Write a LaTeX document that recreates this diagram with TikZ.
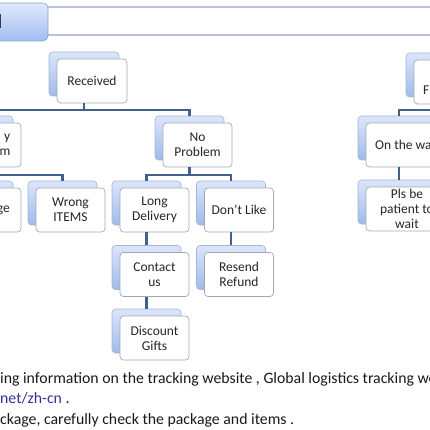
\documentclass[tikz,border=0pt]{standalone}
\usepackage{fontspec}
\setmainfont{Carlito}
\definecolor{connc}{HTML}{43618C}
\definecolor{frontc}{HTML}{A0A8B8}
\definecolor{backc}{HTML}{A3B5D6}
\definecolor{backtop}{HTML}{DCE6FA}
\definecolor{backbot}{HTML}{9FBAEA}
\definecolor{headtop}{HTML}{DFE9FC}
\definecolor{headbot}{HTML}{A2BDF0}
\definecolor{headc}{HTML}{8AA2CC}
\definecolor{bannerc}{HTML}{B9C4D7}
\definecolor{linkc}{HTML}{2F3193}
\newcommand\smbox[5]{%
  \node[backbox, minimum width=#4pt] (#1B) at (#2-8,#3-7) {};
  \node[frontbox, minimum width=#4pt] (#1) at (#2,#3) {#5};}
\begin{document}
\begin{tikzpicture}[x=1pt,y=-1pt,
  conn/.style={draw=connc, line width=2.2pt},
  frontbox/.style={draw=frontc, fill=white, line width=0.7pt, rounded corners=3.5pt,
    minimum height=44pt, inner sep=0.3pt, align=center,
    font=\fontsize{13.5}{15}\selectfont, text=black!85},
  backbox/.style={draw=backc, line width=0.6pt, rounded corners=3.5pt,
    minimum height=44pt, top color=backtop, bottom color=backbot},
  txt/.style={font=\fontsize{13.5}{15}\selectfont, inner sep=0pt, text=black!85},
  foot/.style={font=\fontsize{15.8}{18}\selectfont, inner sep=0pt, anchor=base west, text=black!90}]
\useasboundingbox (0,0) rectangle (430,430);
\clip (0,0) rectangle (430,430);
% banner
\draw[bannerc, line width=1.2pt] (30,7) -- (445,7) (30,35) -- (445,35);
\node[draw=headc, line width=0.6pt, rounded corners=5pt, top color=headtop, bottom color=headbot,
  minimum width=62pt, minimum height=38pt] (head) at (17,22) {};
\node[font=\bfseries\fontsize{20}{20}\selectfont, inner sep=0pt, anchor=east] (headtxt) at (2.2,21) {l};
% boxes
\smbox{rec}{92}{81}{70}{Received}
\smbox{qp}{-13.5}{145}{69}{}
\smbox{np}{197.5}{145}{69}{No\\Problem}
\smbox{ge}{-13.5}{210}{69}{}
\smbox{wr}{70.5}{210}{69}{Wrong\\ITEMS}
\smbox{ld}{154.5}{210}{69}{Long\\Delivery}
\smbox{dl}{239}{210}{69}{Don't Like}
\smbox{cu}{154.5}{274.5}{69}{Contact\\us}
\smbox{rr}{239}{274.5}{69}{Resend\\Refund}
\smbox{dg}{154.5}{338}{69}{Discount\\Gifts}
\smbox{fx}{455}{82}{82}{}
\smbox{ow}{407}{145}{82}{}
\smbox{pb}{407}{209}{82}{Pls be\\patient to\\wait}
% partial texts
\node[txt, anchor=east, align=right] (qptxt) at (10.5,145) {y\\m};
\node[txt, anchor=east] (getxt) at (10,210) {ge};
\node[txt, anchor=west] (fxtxt) at (423,90) {F};
\node[txt, anchor=west] (owtxt) at (375,145) {On the wa};
% connectors
\coordinate (j1) at (84,110);
\coordinate (j2) at (-21.5,175);
\coordinate (j3) at (189.5,175);
\coordinate (j4) at (447,110);
\draw[conn] (rec.south -| recB.north) -- (j1);
\draw[conn] (qpB.north) |- (j1) -| (npB.north);
\draw[conn] (qp.south -| qpB.north) -- (geB.north);
\draw[conn] (j2) -| (wrB.north);
\draw[conn] (np.south -| npB.north) -- (j3);
\draw[conn] (ldB.north) |- (j3) -| (dlB.north);
\draw[conn] (ld.south -| ldB.north) -- (cuB.north);
\draw[conn] (cu.south -| cuB.north) -- (dgB.north);
\draw[conn] (dl.south -| dlB.north) -- (rrB.north);
\draw[conn] (fx.south -| fxB.north) -- (j4) -| (owB.north);
\draw[conn] (ow.south -| owB.north) -- (pbB.north);
% footer text
\node[foot] (f1) at (0,383) {ing information on the tracking website , Global logistics tracking website};
\node[foot] (f2) at (0,403.5) {\textcolor{linkc}{net/zh-cn} .};
\node[foot] (f3) at (0,424) {ckage, carefully check the package and items .};
\end{tikzpicture}
\end{document}
